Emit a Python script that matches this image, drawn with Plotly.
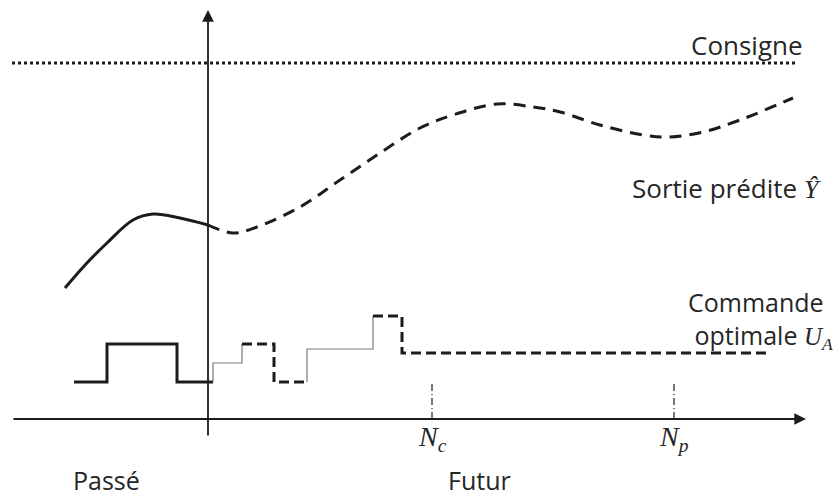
import plotly.graph_objects as go

# ---- data (time units, value units) ----
setpoint_t = [-19.6, 58.9]
setpoint_y = [35.6, 35.6]

past_out_t = [-14.3, -12.2, -10.1, -7.5, -5.5, -2.8, 0.0]
past_out_y = [13.1, 15.5, 17.6, 19.9, 20.5, 20.1, 19.4]

pred_out_t = [0.0, 2.5, 4.9, 9.2, 13.2, 17.2, 21.2, 24.5, 28.9, 32.5, 35.2, 39.2, 43.5, 46.2, 49.5, 53.2, 58.5]
pred_out_y = [19.4, 18.6, 19.2, 21.2, 23.9, 26.6, 29.1, 30.4, 31.5, 31.2, 30.7, 29.4, 28.4, 28.2, 28.7, 29.9, 32.1]

past_u_t = [-13.4, -10.1, -3.1, 0.5]
past_u_v = [3.7, 7.5, 3.7, 3.7]

# future control: step instants and the level held after each step
fut_u_t = [0.5, 3.4, 6.6, 9.9, 16.5, 19.4]
fut_u_v = [5.6, 7.5, 3.7, 7.0, 10.3, 6.6]
fut_u_end = 56.0

Nc, Np = 22.4, 46.6
marker_top = 3.7

x_range = [-20.8, 63.0]
y_range = [-7.3, 41.9]

INK = "#1c1c1c"
TXT = "#262626"
SANS = "Open Sans"
SERIF = "Liberation Serif"

fig = go.Figure()

fig.add_trace(go.Scatter(x=setpoint_t, y=setpoint_y, mode="lines",
                         line=dict(color=INK, width=3, dash="3px,3px")))
fig.add_trace(go.Scatter(x=past_out_t, y=past_out_y, mode="lines",
                         line=dict(color=INK, width=3, shape="spline", smoothing=1.0)))
fig.add_trace(go.Scatter(x=pred_out_t, y=pred_out_y, mode="lines",
                         line=dict(color=INK, width=3, shape="spline", smoothing=1.0, dash="12px,8px")))
fig.add_trace(go.Scatter(x=past_u_t, y=past_u_v, mode="lines",
                         line=dict(color=INK, width=3, shape="hv")))

# build the future step polyline
px_, py_ = [], []
level = past_u_v[-1]
for t, v in zip(fut_u_t, fut_u_v):
    px_ += [t, t]
    py_ += [level, v]
    level = v
px_.append(fut_u_end)
py_.append(level)
# split: segments of 3 edges alternate thin solid / thick dashed
for k, start in enumerate(range(0, len(px_) - 1, 3)):
    end = min(start + 3, len(px_) - 1)
    xs, ys = px_[start:end + 1], py_[start:end + 1]
    if k % 2 == 0:
        line = dict(color="#7a7a7a", width=1.2)
    else:
        line = dict(color=INK, width=3, dash="10px,5px")
    fig.add_trace(go.Scatter(x=xs, y=ys, mode="lines", line=line))

for n in (Nc, Np):
    fig.add_trace(go.Scatter(x=[n, n], y=[0, marker_top], mode="lines",
                             line=dict(color=INK, width=1.2, dash="7px,3px,1px,3px")))

ann = []
ann.append(dict(x=59.8, y=0, ax=-19.6, ay=0, xref="x", yref="y", axref="x", ayref="y",
                showarrow=True, arrowhead=2, arrowsize=1.3, arrowwidth=1.8, arrowcolor=INK, text="", standoff=0))
ann.append(dict(x=0, y=40.9, ax=0, ay=-1.8, xref="x", yref="y", axref="x", ayref="y",
                showarrow=True, arrowhead=2, arrowsize=1.3, arrowwidth=1.8, arrowcolor=INK, text="", standoff=0))

def txt(x, y, s, xanchor="center", size=26, family=SANS, align="center"):
    ann.append(dict(x=x, y=y, xref="x", yref="y", text=s, showarrow=False, xanchor=xanchor,
                    yanchor="middle", align=align, font=dict(family=family, size=size, color=TXT)))

txt(59.7, 37.4, "Consigne", xanchor="right")
txt(61.5, 23.1, "Sortie prédite <span style='font-family:Liberation Serif'><i>Ŷ</i></span>", xanchor="right")
txt(47.8, 10.0, "Commande<br> optimale <span style='font-family:Liberation Serif'><i>U</i><sub><i>A</i></sub></span>",
    xanchor="left", size=25, align="left")
txt(Nc, -1.9, "<i>N</i><sub><i>c</i></sub>", family=SERIF, size=28)
txt(Np, -1.9, "<i>N</i><sub><i>p</i></sub>", family=SERIF, size=28)
txt(-10.2, -6.1, "Passé", size=25)
txt(27.1, -6.1, "Futur", size=25)

fig.update_layout(
    width=838, height=492, margin=dict(l=0, r=0, t=0, b=0),
    paper_bgcolor="white", plot_bgcolor="white", showlegend=False,
    xaxis=dict(range=x_range, visible=False, fixedrange=True),
    yaxis=dict(range=y_range, visible=False, fixedrange=True),
    annotations=ann,
)
fig.write_html("out.html", config={"displayModeBar": False},
               post_script="document.body.style.margin='0';document.body.style.overflow='hidden';")
